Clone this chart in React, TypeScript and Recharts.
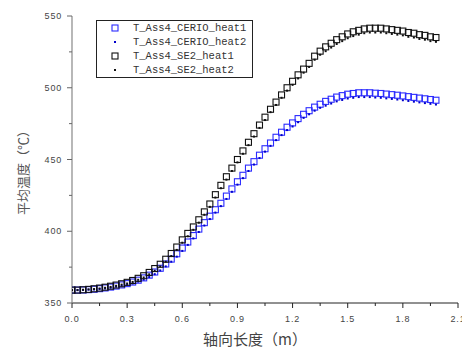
import React from 'react';
import { ScatterChart, Scatter, XAxis, YAxis, Legend, Label } from 'recharts';

const AXIAL_LENGTH = [
  0, 0.03, 0.06, 0.09, 0.12, 0.15, 0.18, 0.21, 0.24, 0.27,
  0.3, 0.33, 0.36, 0.39, 0.42, 0.45, 0.48, 0.51, 0.54, 0.57,
  0.6, 0.63, 0.66, 0.69, 0.72, 0.75, 0.78, 0.81, 0.84, 0.87,
  0.9, 0.93, 0.96, 0.99, 1.02, 1.05, 1.08, 1.11, 1.14, 1.17,
  1.2, 1.23, 1.26, 1.29, 1.32, 1.35, 1.38, 1.41, 1.44, 1.47,
  1.5, 1.53, 1.56, 1.59, 1.62, 1.65, 1.68, 1.71, 1.74, 1.77,
  1.8, 1.83, 1.86, 1.89, 1.92, 1.95, 1.98,
];

const CERIO_HEAT1 = [
  359, 359, 359.1, 359.3, 359.6, 360, 360.5, 361.1, 361.8, 362.6,
  363.5, 364.6, 365.9, 367.5, 369.4, 371.6, 374.2, 377.2, 380.6, 384.3,
  388.3, 392.5, 397, 401.5, 406, 410.5, 415, 419.5, 424.5, 429.5,
  434.5, 439, 444, 448.5, 453, 457.5, 461.5, 465.5, 469, 472.5,
  475.5, 478.5, 481.5, 484, 486.5, 488.5, 490.5, 492, 493.5, 494.5,
  495.5, 496, 496.5, 496.5, 496.5, 496.2, 496, 495.6, 495.2, 494.8,
  494.3, 493.8, 493.3, 492.8, 492.3, 491.8, 491.3,
];

const CERIO_HEAT2 = [
  359, 359, 359.1, 359.3, 359.4, 359.7, 360.1, 360.6, 361.3, 362,
  362.7, 363.6, 364.9, 366.3, 368.1, 370.1, 372.7, 375.5, 378.8, 382.3,
  386.3, 390.5, 395, 399.5, 404, 408.5, 413, 417.5, 422.5, 427.5,
  432.5, 437, 442, 446.5, 451, 455.5, 459.5, 463.5, 467, 470.5,
  473, 476, 479, 481.5, 484, 486, 487.5, 489, 490.5, 491.5,
  492.5, 493, 493.5, 493.5, 493.5, 493.2, 493, 492.6, 492.2, 491.8,
  491.3, 490.8, 490.3, 489.8, 489.3, 488.8, 488.3,
];

const SE2_HEAT1 = [
  359, 359, 359.2, 359.5, 359.9, 360.4, 361, 361.7, 362.5, 363.4,
  364.4, 365.7, 367.2, 369, 371.3, 374, 377, 380.5, 384.5, 389,
  394, 398.5, 403, 408, 413.5, 419, 425.5, 432, 438, 444,
  450, 456, 462, 468, 474, 479.5, 485, 490, 495, 500,
  504.5, 509, 513, 517, 522, 525.5, 528.5, 531, 533.5, 535.5,
  537.5, 539, 540, 541, 541.5, 541.5, 541.5, 541, 540.5, 540,
  539.5, 538.5, 538, 537, 536.5, 535.5, 535,
];

const SE2_HEAT2 = [
  359, 359, 359.2, 359.5, 359.7, 360.1, 360.6, 361.2, 362, 362.8,
  363.6, 364.7, 366.2, 367.8, 370, 372.5, 375.5, 378.8, 382.7, 387,
  392, 396.5, 401, 406, 411.5, 417, 423.5, 430, 436, 442,
  448, 454, 460, 466, 472, 477.5, 483, 488, 493, 498,
  502, 506.5, 510.5, 514.5, 519.5, 523, 525.5, 528, 530.5, 532.5,
  534.5, 536, 537, 538, 538.5, 538.5, 538.5, 538, 537.5, 537,
  536.5, 535.5, 535, 534, 533.5, 532.5, 532,
];

const SERIES_NAMES = ['T_Ass4_CERIO_heat1', 'T_Ass4_CERIO_heat2', 'T_Ass4_SE2_heat1', 'T_Ass4_SE2_heat2'];
const X_TICKS = [0, 0.15, 0.3, 0.45, 0.6, 0.75, 0.9, 1.05, 1.2, 1.35, 1.5, 1.65, 1.8, 1.95, 2.1];
const Y_TICKS = [350, 375, 400, 425, 450, 475, 500, 525, 550];
const X_TITLE = '轴向长度（m）';
const Y_TITLE = '平均温度（℃）';

const toRows = (ys: number[]) => AXIAL_LENGTH.map((x, i) => ({ x, y: ys[i] }));

const BLUE_SQ = '#2b2bff';
const BLUE_DOT = '#0000cc';
const BLACK = '#111111';

const hollowSquare = (color: string) => (p: any) => (
  <rect x={p.cx - 3} y={p.cy - 3} width={6} height={6} fill="none" stroke={color} strokeWidth={1.1} />
);
const smallDot = (color: string) => (p: any) => (
  <rect x={p.cx - 1} y={p.cy - 1} width={2} height={2} fill={color} />
);

const tickFont = '"Liberation Sans", Arial, sans-serif';

const XTick = (props: any) => {
  const { x, y, payload } = props;
  const major = Math.round(payload.value / 0.15) % 2 === 0;
  return (
    <g>
      <line x1={x} y1={y} x2={x} y2={y + (major ? 5 : 3)} stroke="#222" strokeWidth={1} />
      {major && (
        <text x={x} y={y + 19} textAnchor="middle" fontSize={9} fill="#444" fontFamily={tickFont} letterSpacing={0.8}>
          {payload.value.toFixed(1)}
        </text>
      )}
    </g>
  );
};

const YTick = (props: any) => {
  const { x, y, payload } = props;
  const major = payload.value % 50 === 0;
  return (
    <g>
      <line x1={x} y1={y} x2={x - (major ? 5 : 3)} y2={y} stroke="#666" strokeWidth={1} />
      {major && (
        <text x={x - 10} y={y + 3} textAnchor="end" fontSize={9} fill="#444" fontFamily={tickFont} letterSpacing={0.8}>
          {payload.value}
        </text>
      )}
    </g>
  );
};

const legendMarkers = [
  <rect x={-3} y={-3} width={6} height={6} fill="none" stroke={BLUE_SQ} strokeWidth={1.1} />,
  <rect x={-1} y={-1} width={2} height={2} fill={BLUE_DOT} />,
  <rect x={-3} y={-3} width={6} height={6} fill="none" stroke={BLACK} strokeWidth={1.1} />,
  <rect x={-1} y={-1} width={2} height={2} fill={BLACK} />,
];

const renderLegend = () => (
  <div
    style={{
      width: 155,
      height: 56,
      border: '1px solid #222',
      background: '#fff',
      boxSizing: 'content-box',
    }}
  >
    {SERIES_NAMES.map((name, i) => (
      <div key={name} style={{ height: 14, display: 'flex', alignItems: 'center', position: 'relative' }}>
        <svg width={10} height={10} style={{ position: 'absolute', left: 13, top: 2 }}>
          <g transform="translate(5,5)">{legendMarkers[i]}</g>
        </svg>
        <span
          style={{
            position: 'absolute',
            left: 36,
            top: 0,
            lineHeight: '14px',
            fontFamily: '"Liberation Mono", monospace',
            fontSize: 10.5,
            color: '#333',
            whiteSpace: 'nowrap',
          }}
        >
          {name}
        </span>
      </div>
    ))}
  </div>
);

export default function App() {
  return (
    <div style={{ position: 'absolute', left: 0, top: 0, width: 462, height: 351, background: '#fff' }}>
      <ScatterChart width={462} height={351} margin={{ top: 16, right: 4, bottom: 8, left: 12 }}>
        <XAxis
          type="number"
          dataKey="x"
          domain={[0, 2.1]}
          ticks={X_TICKS}
          interval={0}
          tickSize={0}
          tickMargin={0}
          tick={<XTick />}
          axisLine={{ stroke: '#222', strokeWidth: 1 }}
          tickLine={false}
          height={40}
          allowDataOverflow
        >
          <Label
            content={(p: any) => {
              const vb = p.viewBox;
              return (
                <text
                  x={vb.x + vb.width / 2 - 10}
                  y={vb.y + 42}
                  textAnchor="middle"
                  fontSize={15}
                  fill="#444"
                  fontFamily='"Noto Sans CJK SC", sans-serif'
                >
                  {X_TITLE}
                </text>
              );
            }}
          />
        </XAxis>
        <YAxis
          type="number"
          dataKey="y"
          domain={[350, 550]}
          ticks={Y_TICKS}
          interval={0}
          tickSize={0}
          tickMargin={0}
          tick={<YTick />}
          axisLine={{ stroke: '#888', strokeWidth: 1.2 }}
          tickLine={false}
          width={60}
          allowDataOverflow
        >
          <Label
            content={(p: any) => {
              const vb = p.viewBox;
              const cx = vb.x + 10;
              const cy = vb.y + vb.height / 2 + 10;
              return (
                <text
                  x={cx}
                  y={cy}
                  transform={`rotate(-90 ${cx} ${cy})`}
                  textAnchor="middle"
                  dominantBaseline="central"
                  fontSize={13}
                  fill="#555"
                  fontFamily='"Noto Sans CJK SC", sans-serif'
                >
                  {Y_TITLE}
                </text>
              );
            }}
          />
        </YAxis>
        <Legend
          layout="vertical"
          align="center"
          verticalAlign="middle"
          wrapperStyle={{ left: 96, top: 20, width: 157, height: 58 }}
          content={renderLegend}
        />
        <Scatter name={SERIES_NAMES[0]} data={toRows(CERIO_HEAT1)} shape={hollowSquare(BLUE_SQ)} isAnimationActive={false} />
        <Scatter name={SERIES_NAMES[1]} data={toRows(CERIO_HEAT2)} shape={smallDot(BLUE_DOT)} isAnimationActive={false} />
        <Scatter name={SERIES_NAMES[2]} data={toRows(SE2_HEAT1)} shape={hollowSquare(BLACK)} isAnimationActive={false} />
        <Scatter name={SERIES_NAMES[3]} data={toRows(SE2_HEAT2)} shape={smallDot(BLACK)} isAnimationActive={false} />
      </ScatterChart>
    </div>
  );
}
